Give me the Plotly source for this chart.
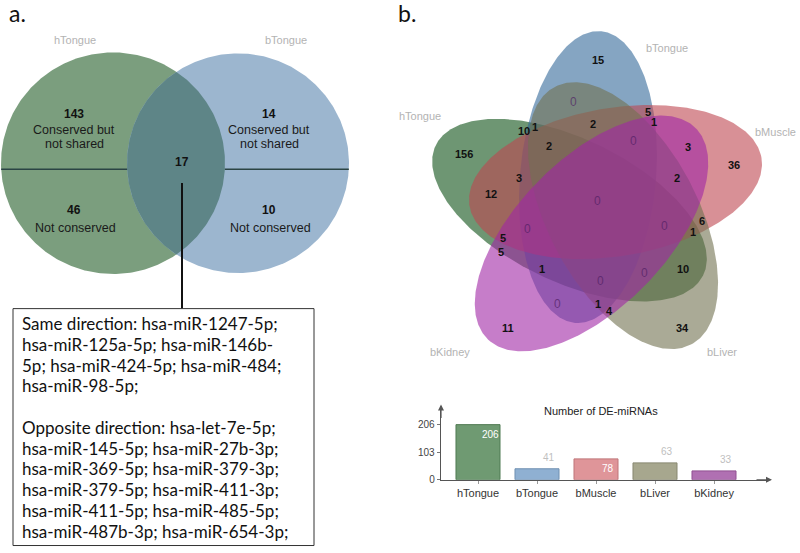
import numpy as np
import plotly.graph_objects as go

W, H = 800, 553

# ---------------- data ----------------
# panel a
a_sets = ["hTongue", "bTongue"]
a_conserved = [143, 14]
a_not_conserved = [46, 10]
a_shared = 17
a_conserved_text = ["Conserved but", "not shared"]
a_not_text = "Not conserved"
box_lines = [
    "Same direction: hsa-miR-1247-5p;",
    "hsa-miR-125a-5p; hsa-miR-146b-",
    "5p; hsa-miR-424-5p; hsa-miR-484;",
    "hsa-miR-98-5p;",
    "",
    "Opposite direction: hsa-let-7e-5p;",
    "hsa-miR-145-5p; hsa-miR-27b-3p;",
    "hsa-miR-369-5p; hsa-miR-379-3p;",
    "hsa-miR-379-5p; hsa-miR-411-3p;",
    "hsa-miR-411-5p; hsa-miR-485-5p;",
    "hsa-miR-487b-3p; hsa-miR-654-3p;",
]

# panel b
b_sets = ["hTongue", "bTongue", "bMuscle", "bLiver", "bKidney"]
b_totals = [206, 41, 78, 63, 33]
b_region_counts = [15, 0, 5, 1, 10, 1, 2, 2, 0, 3, 156, 36, 3, 2, 12, 0,
                   0, 0, 6, 1, 5, 5, 1, 0, 10, 0, 0, 1, 4, 11, 34]
bar_title = "Number of DE-miRNAs"
bar_ticks = [0, 103, 206]

# ---------------- layout / style ----------------
# region label positions (pixel layout of the 5-set diagram)
b_region_pos = [(598, 61), (573, 103), (648, 113), (654, 123), (524, 132), (535, 128),
                (593, 125), (549, 148), (633, 143), (688, 149), (464, 156), (734, 167),
                (519, 180), (677, 180), (491, 196), (597, 203), (527, 232), (664, 228),
                (702, 223), (693, 235), (503, 241), (501, 255), (542, 272), (644, 276),
                (683, 272), (600, 284), (557, 307), (598, 307), (609, 314), (508, 332),
                (682, 332)]
# ellipses: cx, cy, semi-major, semi-minor, rotation (deg, screen)
b_ellipses = [(569.5, 212.5, 149, 72, 26.3),
              (588, 179, 148, 68, 95),
              (615.5, 184, 148, 75, -9.5),
              (623, 218, 147, 75, 62.5),
              (591.5, 236, 149, 75, 134)]
b_fill = ["rgba(13,80,22,0.6)", "rgba(45,100,150,0.58)", "rgba(190,70,80,0.6)",
          "rgba(113,113,80,0.6)", "rgba(160,38,165,0.6)"]
b_label_pos = [(420, 117, "center"), (667, 49, "center"), (798, 133, "right"),
               (722, 356, "center"), (450, 356, "center")]
bar_colors = ["#6f9a72", "#8fb0d2", "#df9599", "#a7a78e", "#b070b2"]
bar_edges = ["#4f7a52", "#6f90b2", "#bf7579", "#878770", "#905092"]
bar_label_inside = [True, False, True, False, False]

SANS = "Liberation Sans, Arial, sans-serif"

fig = go.Figure()
t = np.linspace(0, 2 * np.pi, 400)

# ---- panel a: two circles ----
cL, cR = (113.0, 165.0, 112.0), (238.0, 165.0, 111.0)
for (cx, cy, r), col in [(cL, "#7b9e7e"), (cR, "#9cb6cf")]:
    fig.add_trace(go.Scatter(x=cx + r * np.cos(t), y=cy + r * np.sin(t), mode="lines",
                             fill="toself", fillcolor=col, line=dict(width=0),
                             hoverinfo="skip", showlegend=False))
d = cR[0] - cL[0]
aa = (d ** 2 + cL[2] ** 2 - cR[2] ** 2) / (2 * d)
hh = np.sqrt(cL[2] ** 2 - aa ** 2)
phiL = np.arctan2(hh, aa)
phiR = np.arctan2(hh, d - aa)
angL = np.linspace(-phiL, phiL, 120)
angR = np.linspace(np.pi - phiR, np.pi + phiR, 120)
lx = np.concatenate([cL[0] + cL[2] * np.cos(angL), cR[0] + cR[2] * np.cos(angR)])
ly = np.concatenate([cL[1] + cL[2] * np.sin(angL), cR[1] + cR[2] * np.sin(angR)])
fig.add_trace(go.Scatter(x=lx, y=ly, mode="lines", fill="toself", fillcolor="#5e8587",
                         line=dict(width=0), hoverinfo="skip", showlegend=False))

# divider lines
yl = 171.0
def half(c, y):
    return np.sqrt(c[2] ** 2 - (y - c[1]) ** 2)
segs = [(cL[0] - half(cL, yl), cR[0] - half(cR, yl)), (cL[0] + half(cL, yl), cR[0] + half(cR, yl))]
for x0, x1 in segs:
    fig.add_trace(go.Scatter(x=[x0, x1], y=[yl, yl], mode="lines",
                             line=dict(color="#2b4444", width=1.5),
                             hoverinfo="skip", showlegend=False))

# ---- panel b: ellipses ----
for (cx, cy, A, B, rot), col in zip(b_ellipses, b_fill):
    th = np.deg2rad(rot)
    ex = cx + A * np.cos(t) * np.cos(th) - B * np.sin(t) * np.sin(th)
    ey = cy + A * np.cos(t) * np.sin(th) + B * np.sin(t) * np.cos(th)
    fig.add_trace(go.Scatter(x=ex, y=ey, mode="lines", fill="toself", fillcolor=col,
                             line=dict(width=0), hoverinfo="skip", showlegend=False))

# ---- bar chart ----
fig.add_trace(go.Bar(x=b_sets, y=b_totals, xaxis="x2", yaxis="y2",
                     marker=dict(color=bar_colors, line=dict(color=bar_edges, width=1)),
                     hoverinfo="skip", showlegend=False))

ann = []
shapes = []

def txt(x, y, s, size=12, color="#111", bold=False, family=SANS, xanchor="center", **kw):
    ann.append(dict(x=x, y=y, xref="x", yref="y", text=("<b>%s</b>" % s) if bold else s,
                    showarrow=False, xanchor=xanchor, yanchor="middle",
                    font=dict(size=size, color=color, family=family), **kw))

# panel letters
txt(17, 13, "a.", size=23, color="#111", family="Lato, Open Sans, sans-serif")
txt(407, 13, "b.", size=23, color="#111", family="Lato, Open Sans, sans-serif")

# panel a texts
txt(75, 40, a_sets[0], size=11, color="#b3b3b3")
txt(286, 40, a_sets[1], size=11, color="#b3b3b3")
for cx_txt, n_c, n_n in zip([74, 269], a_conserved, a_not_conserved):
    txt(cx_txt, 115, str(n_c), size=12, bold=True)
    txt(cx_txt, 131, a_conserved_text[0], size=12.5, color="#1a1a1a")
    txt(cx_txt, 145.5, a_conserved_text[1], size=12.5, color="#1a1a1a")
    txt(cx_txt, 212, str(n_n), size=12, bold=True)
    txt(cx_txt + 1, 230, a_not_text, size=12.5, color="#1a1a1a")
txt(182, 164, str(a_shared), size=12, bold=True)

shapes.append(dict(type="line", xref="x", yref="y", x0=182, x1=182, y0=185, y1=312,
                   line=dict(color="#111", width=2)))
shapes.append(dict(type="rect", xref="x", yref="y", x0=13, x1=314, y0=312, y1=551.5,
                   line=dict(color="#333", width=1), fillcolor="rgba(0,0,0,0)"))
for i, line in enumerate(box_lines):
    if line:
        txt(20, 327 + 21 * i, line, size=17, color="#111",
            family="Lato, Carlito, sans-serif", xanchor="left")

# panel b texts
for (x, y, anc), name in zip(b_label_pos, b_sets):
    txt(x, y, name, size=11, color="#b3b3b3", xanchor=anc)
for (x, y), n in zip(b_region_pos, b_region_counts):
    if n == 0:
        txt(x, y, "0", size=12, color="rgba(80,30,100,0.7)")
    else:
        txt(x, y, str(n), size=11, color="#111", bold=True)

# bar value labels
for name, v, inside in zip(b_sets, b_totals, bar_label_inside):
    ann.append(dict(x=name, y=v, xref="x2", yref="y2", text=str(v), showarrow=False,
                    xshift=12, yshift=-10 if inside else 11,
                    font=dict(size=10, color="white" if inside else "#c0c0c0", family=SANS)))
txt(601, 415, bar_title, size=11, color="#222")
# axis arrows
ann.append(dict(x=441, y=409, ax=441, ay=424, xref="x", yref="y", axref="x", ayref="y",
                showarrow=True, arrowhead=2, arrowsize=1, arrowwidth=1.2, arrowcolor="#555", text=""))
ann.append(dict(x=772, y=485, ax=755, ay=485, xref="x", yref="y", axref="x", ayref="y",
                showarrow=True, arrowhead=2, arrowsize=1, arrowwidth=1.2, arrowcolor="#555", text=""))

y_px_per = 55.7 / 206.0
dom_y0 = 1 - 485 / H
dom_y1 = 1 - 413 / H
ymax = 72 / y_px_per
cat_w = 59.0
r0 = -(478 - 440.7) / cat_w
r1 = r0 + (767 - 440.7) / cat_w

fig.update_layout(
    width=W, height=H, margin=dict(l=0, r=0, t=0, b=0),
    paper_bgcolor="white", plot_bgcolor="rgba(0,0,0,0)",
    xaxis=dict(range=[0, W], visible=False, domain=[0, 1], fixedrange=True),
    yaxis=dict(range=[H, 0], visible=False, domain=[0, 1], fixedrange=True),
    xaxis2=dict(domain=[440.7 / W, 767 / W], anchor="y2", range=[r0, r1], showgrid=False,
                zeroline=False, showline=True, linecolor="#555", linewidth=1,
                ticks="outside", ticklen=3, tickcolor="#999",
                tickfont=dict(size=11, color="#333", family=SANS)),
    yaxis2=dict(domain=[dom_y0, dom_y1], anchor="x2", range=[0, ymax], showgrid=False,
                zeroline=False, showline=True, linecolor="#555", linewidth=1,
                tickvals=bar_ticks, ticks="outside", ticklen=3, tickcolor="#777",
                tickfont=dict(size=10, color="#444", family=SANS)),
    bargap=0.254,
    annotations=ann, shapes=shapes,
)
fig.write_html("out.html", config={"displayModeBar": False},
               post_script="document.body.style.margin='0';document.body.style.overflow='hidden';")
